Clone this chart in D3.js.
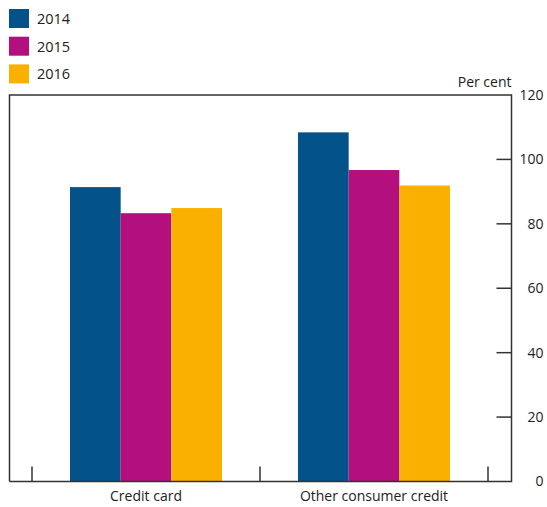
<!DOCTYPE html>
<html><head><meta charset="utf-8">
<script src="https://cdn.jsdelivr.net/npm/d3@7"></script>
<style>body{margin:0;background:#fff}svg{display:block}text{font-family:"Open Sans",sans-serif;fill:#222}</style>
</head><body><div id="chart"></div>
<script>
const categories = ["Credit card", "Other consumer credit"];
const seriesNames = ["2014", "2015", "2016"];
const values2014 = [91.4, 108.4];
const values2015 = [83.3, 96.7];
const values2016 = [84.9, 91.9];
const colors = ["#03528A", "#B30F7E", "#F9B000"];
const yTicks = [0, 20, 40, 60, 80, 100, 120];
const yLabel = "Per cent";

const W = 547, H = 507;
const pLeft = 9.5, pRight = 511.5, pTop = 95, pBottom = 481.5;
const svg = d3.select("#chart").append("svg").attr("width", W).attr("height", H);

const series = [values2014, values2015, values2016];
const y = d3.scaleLinear().domain([0, 120]).range([pBottom, pTop]);
const x = d3.scaleBand().domain(categories).range([32, 488]).padding(0);
const xi = d3.scaleBand().domain(seriesNames).range([38, x.bandwidth() - 38]).padding(0);

// bars
const g = svg.append("g");
categories.forEach((c, ci) => {
  seriesNames.forEach((s, si) => {
    g.append("rect")
      .attr("x", x(c) + xi(s))
      .attr("width", xi.bandwidth())
      .attr("y", y(series[si][ci]))
      .attr("height", y(0) - y(series[si][ci]))
      .attr("fill", colors[si]);
  });
});

// frame
const stroke = "#333";
svg.append("path")
  .attr("d", `M${pLeft},${pBottom}V${pTop}H${pRight}V${pBottom}H${pLeft}`)
  .attr("fill", "none").attr("stroke", stroke).attr("stroke-width", 1.5);

// right y axis
const yAxis = d3.axisRight(y).tickValues(yTicks).tickSize(0).tickPadding(0).tickFormat(d3.format("d"));
const ya = svg.append("g").attr("transform", `translate(${pRight},0)`).call(yAxis);
ya.select(".domain").remove();
ya.selectAll("text").attr("x", 32).attr("text-anchor", "end")
  .style("font-family", "'Open Sans',sans-serif").style("font-size", "14px").attr("fill", "#222");
// inward ticks
svg.append("g").selectAll("line").data(yTicks.filter(d => d > 0 && d < 120)).join("line")
  .attr("x1", pRight - 15).attr("x2", pRight).attr("y1", d => y(d)).attr("y2", d => y(d))
  .attr("stroke", stroke).attr("stroke-width", 1.5);

// bottom x axis: boundary ticks
const bounds = [x(categories[0]), x(categories[1]), x(categories[1]) + x.bandwidth()];
svg.append("g").selectAll("line").data(bounds).join("line")
  .attr("x1", d => d).attr("x2", d => d).attr("y1", pBottom - 15).attr("y2", pBottom)
  .attr("stroke", stroke).attr("stroke-width", 1.5);
const xAxis = d3.axisBottom(x).tickSize(0).tickPadding(0);
const xa = svg.append("g").attr("transform", `translate(0,${pBottom})`).call(xAxis);
xa.select(".domain").remove();
xa.selectAll("text").attr("y", 10).attr("dy", "0.71em")
  .style("font-family", "'Open Sans',sans-serif").style("font-size", "14px").attr("fill", "#222");

// y label
svg.append("text").attr("x", pRight).attr("y", 87).attr("text-anchor", "end")
  .style("font-size", "14px").text(yLabel);

// legend
const lg = svg.append("g");
seriesNames.forEach((s, i) => {
  lg.append("rect").attr("x", 9).attr("y", 9 + i * 27.7).attr("width", 20).attr("height", 19).attr("fill", colors[i]);
  lg.append("text").attr("x", 37).attr("y", 9 + i * 27.7 + 15).style("font-size", "14.5px").text(s);
});
</script></body></html>
